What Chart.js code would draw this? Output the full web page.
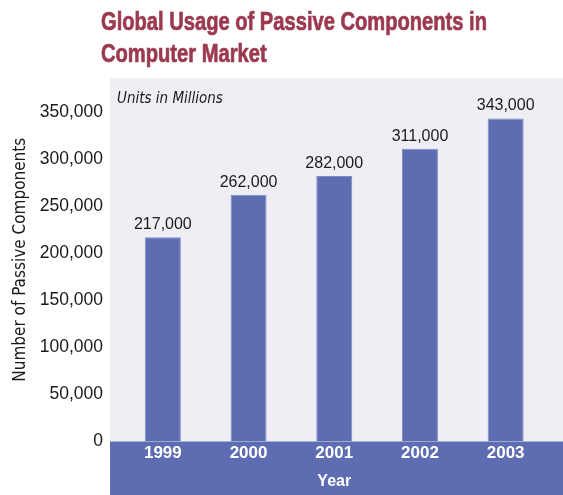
<!DOCTYPE html>
<html><head><meta charset="utf-8">
<script src="https://cdn.jsdelivr.net/npm/chart.js@4.4.1/dist/chart.umd.min.js"></script>
<style>html,body{margin:0;padding:0;background:#fff;overflow:hidden}#wrap{width:563px;height:495px}</style>
</head><body><div id="wrap"><canvas id="c" width="563" height="495"></canvas></div>
<script>
const years = ['1999', '2000', '2001', '2002', '2003'];
const units = [217000, 262000, 282000, 311000, 343000];
const yTickValues = [0, 50000, 100000, 150000, 200000, 250000, 300000, 350000];
const titleLines = ['Global Usage of Passive Components in', 'Computer Market'];
const unitNote = 'Units in Millions';
const yTitleText = 'Number of Passive Components';
const xTitleText = 'Year';

const COND = '"DejaVu Sans Condensed", "Liberation Sans", sans-serif';
const SANS = '"Liberation Sans", Arial, sans-serif';
const BAR = '#5e6db1';
const BAR_EDGE = '#7d8bc6';
const PLOT_BG = '#efeef5';
const TITLE_COLOR = '#9b3a4f';
const TEXT = '#1a1a1a';

const decor = {
  id: 'decor',
  beforeDraw(chart) {
    const {ctx, chartArea, scales: {y}} = chart;
    const zero = y.getPixelForValue(0);
    ctx.save();
    ctx.fillStyle = PLOT_BG;
    ctx.fillRect(110, chartArea.top, chart.width - 110, zero - chartArea.top);
    ctx.fillStyle = BAR;
    ctx.fillRect(110, zero, chart.width - 110, chart.height - zero);
    // title (condensed horizontally to match the narrow headline face)
    ctx.fillStyle = TITLE_COLOR;
    ctx.strokeStyle = TITLE_COLOR;
    ctx.lineWidth = 0.7;
    ctx.font = 'bold 25px ' + SANS;
    ctx.textAlign = 'left';
    ctx.textBaseline = 'alphabetic';
    const sx = 386 / ctx.measureText(titleLines[0]).width;
    titleLines.forEach((t, i) => {
      ctx.save();
      ctx.translate(101, 30 + i * 32);
      ctx.scale(sx, 1);
      ctx.fillText(t, 0, 0);
      ctx.strokeText(t, 0, 0);
      ctx.restore();
    });
    // note
    ctx.fillStyle = TEXT;
    ctx.font = 'italic 15px ' + COND;
    ctx.fillText(unitNote, 117, 103);
    ctx.restore();
  },
  afterDatasetsDraw(chart) {
    const {ctx} = chart;
    const meta = chart.getDatasetMeta(0);
    ctx.save();
    ctx.fillStyle = TEXT;
    ctx.font = '16px ' + SANS;
    ctx.textAlign = 'center';
    ctx.textBaseline = 'alphabetic';
    meta.data.forEach((bar, i) => {
      ctx.fillText(units[i].toLocaleString('en-US'), bar.x, bar.y - 8);
    });
    ctx.restore();
  }
};

new Chart(document.getElementById('c'), {
  type: 'bar',
  data: {
    labels: years,
    datasets: [{
      data: units,
      backgroundColor: BAR,
      borderColor: BAR_EDGE,
      borderWidth: 1,
      borderSkipped: 'start',
      barPercentage: 0.42,
      categoryPercentage: 1
    }]
  },
  options: {
    responsive: false,
    animation: false,
    devicePixelRatio: 1,
    layout: {padding: {top: 78, right: 14.5, bottom: 0, left: 0}},
    plugins: {legend: {display: false}, tooltip: {enabled: false}, title: {display: false}},
    scales: {
      x: {
        grid: {display: false, drawTicks: false},
        border: {display: false},
        ticks: {color: '#ffffff', padding: 2, font: {family: SANS, size: 17, weight: 'bold'}},
        title: {display: true, text: xTitleText, color: '#ffffff', padding: {top: 0, bottom: 4}, font: {family: SANS, size: 16, weight: 'bold'}},
        afterFit(s) { s.height = 53.5; }
      },
      y: {
        min: 0,
        max: 386000,
        grid: {display: false, drawTicks: false},
        border: {display: false},
        ticks: {stepSize: 50000, color: TEXT, padding: 17, font: {family: SANS, size: 17.5}},
        afterBuildTicks(s) { s.ticks = yTickValues.map(v => ({value: v})); },
        title: {display: true, text: yTitleText, color: TEXT, padding: {top: 10, bottom: 0}, font: {family: COND, size: 17}},
        afterFit(s) { s.width = 120; }
      }
    }
  },
  plugins: [decor]
});
</script></body></html>
